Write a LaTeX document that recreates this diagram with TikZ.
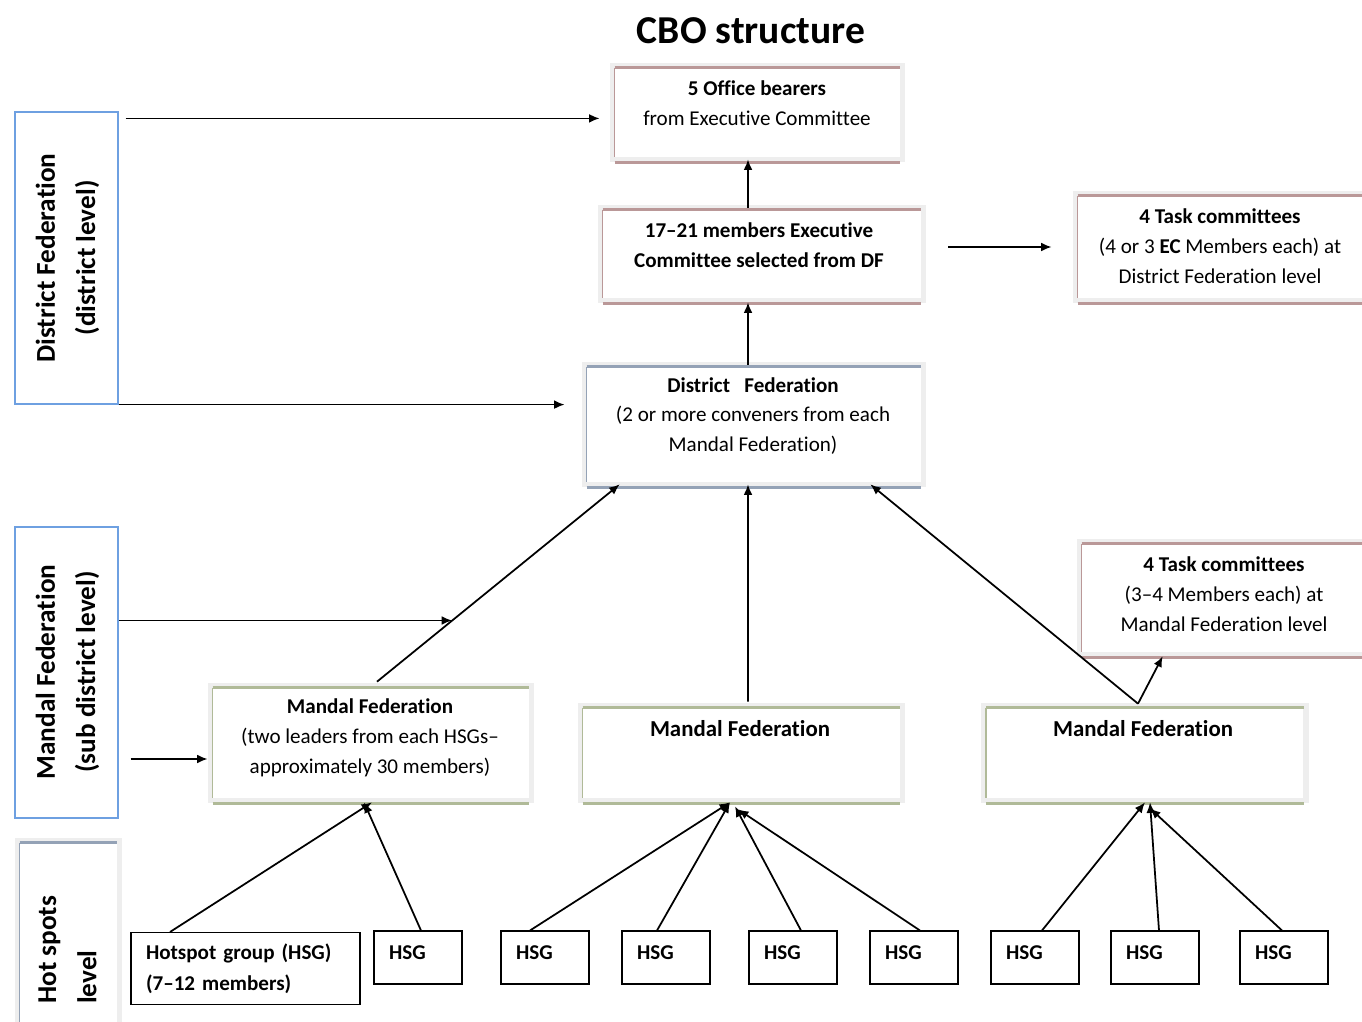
\documentclass[tikz,border=0pt]{standalone}
\usepackage{fontspec}
\setmainfont{Carlito}[Ligatures=CommonOff]
\usetikzlibrary{arrows.meta,calc}

\definecolor{boxband}{RGB}{238,238,238}
\definecolor{mauve}{RGB}{186,152,152}
\definecolor{slate}{RGB}{148,162,182}
\definecolor{sage}{RGB}{176,186,152}
\definecolor{labelblue}{RGB}{110,160,225}

\tikzset{
    fedbox/.style = {
        fill=white,
        inner sep=0pt,
        preaction={draw=boxband, line width=6pt},
        append after command={
            \pgfextra{\let\boxnode\tikzlastnode}
            (\boxnode.north west) edge[draw=#1, line width=2pt] (\boxnode.north east)
            (\boxnode.north west) edge[draw=#1, line width=0.9pt] (\boxnode.south west)
            ([yshift=-3pt]\boxnode.south west) edge[draw=#1, line width=2pt] ([yshift=-3pt]\boxnode.south east)
        }
    },
    sidebox/.style = {
        draw=labelblue,
        line width=0.7pt,
        inner sep=0pt
    },
    boxtext/.style = {
        align=center,
        font=\fontsize{12}{17}\selectfont
    },
    sidetext/.style = {
        rotate=90,
        align=center,
        font=\bfseries\fontsize{15.5}{23}\selectfont
    },
    hsg/.style = {
        draw,
        line width=0.6pt,
        minimum height=1.06cm,
        text width=#1,
        inner xsep=0.3cm,
        align=left,
        font=\bfseries\fontsize{12}{17.5}\selectfont
    },
    hsgsmall/.style = {
        hsg=1.16cm,
        text depth=0.2cm
    },
    conn/.style = {
        -{Latex[length=6pt,width=5pt]},
        line width=1pt
    }
}

\begin{document}
\begin{tikzpicture}[x=0.02cm, y=-0.02cm]
    \useasboundingbox (0,0) rectangle (1362,1021);
    \clip (0,0) rectangle (1362,1021);

    % Title
    \node[font=\bfseries\fontsize{22.5}{26}\selectfont] (title) at (751,31) {CBO structure};

    % Level boxes on the left
    \node[sidebox, minimum width=2.06cm, minimum height=5.84cm] (distside) at (66.5,258) {};
    \node[sidebox, minimum width=2.06cm, minimum height=5.82cm] (mandside) at (66.5,672.5) {};
    \node[fedbox=slate, minimum width=1.94cm, minimum height=3.74cm] (hotside) at (68.5,936.5) {};
    \node[sidetext] (distlbl) at (67.5,258) {District Federation\\(district level)};
    \node[sidetext] (mandlbl) at (67.5,672) {Mandal Federation\\(sub district level)};
    \node[sidetext, align=left, anchor=west] (hotlbl) at (67.5,1010) {Hot spots\\level};

    % District level boxes
    \node[fedbox=mauve, minimum width=5.7cm, minimum height=1.78cm] (office) at (757.5,112.5) {};
    \node[fedbox=mauve, minimum width=6.36cm, minimum height=1.76cm] (exec) at (762,254) {};
    \node[fedbox=slate, minimum width=6.68cm, minimum height=2.3cm] (df) at (754,424.5) {};
    \node[fedbox=mauve, minimum width=5.84cm, minimum height=2.04cm] (task1) at (1224,247) {};
    \node[fedbox=mauve, minimum width=5.76cm, minimum height=2.16cm] (task2) at (1226,598) {};

    \node[boxtext] (officetxt) at (757,103.5) {\textbf{5 Office bearers}\\from Executive Committee};
    \node[boxtext, font=\bfseries\fontsize{12}{17}\selectfont] (exectxt) at (759,245) {17--21 members Executive\\Committee selected from DF};
    \node[boxtext] (dftxt) at (753,416) {\textbf{District~~ Federation}\\(2 or more conveners from each\\Mandal Federation)};
    \node[boxtext] (task1txt) at (1220,246.5) {\textbf{4 Task committees}\\(4 or 3 \textbf{EC} Members each) at\\District Federation level};
    \node[boxtext] (task2txt) at (1224,594) {\textbf{4 Task committees}\\(3--4 Members each) at\\Mandal Federation level};

    % Mandal level boxes
    \node[fedbox=sage, minimum width=6.32cm, minimum height=2.2cm] (mf1) at (371,743) {};
    \node[fedbox=sage, minimum width=6.34cm, minimum height=1.8cm] (mf2) at (741.5,753) {};
    \node[fedbox=sage, minimum width=6.34cm, minimum height=1.8cm] (mf3) at (1145,753) {};

    \node[boxtext] (mf1txt) at (370,738) {\textbf{Mandal Federation}\\(two leaders from each HSGs--\\approximately 30 members)};
    \node[boxtext, font=\bfseries\fontsize{13}{17}\selectfont] (mf2txt) at (740,729) {Mandal Federation};
    \node[boxtext, font=\bfseries\fontsize{13}{17}\selectfont] (mf3txt) at (1143,729) {Mandal Federation};

    % Hot spot groups
    \node[hsg=3.98cm, minimum height=1.44cm] (hot) at (245.5,968.5) {Hotspot group (HSG)\\(7--12 members)};
    \node[hsgsmall] (h1) at (418,957.5) {HSG};
    \node[hsgsmall] (h2) at (545,957.5) {HSG};
    \node[hsgsmall] (h3) at (666,957.5) {HSG};
    \node[hsgsmall] (h4) at (793,957.5) {HSG};
    \node[hsgsmall] (h5) at (914,957.5) {HSG};
    \node[hsgsmall] (h6) at (1035,957.5) {HSG};
    \node[hsgsmall] (h7) at (1155,957.5) {HSG};
    \node[hsgsmall] (h8) at (1284,957.5) {HSG};

    % Draw arrows between levels
    \draw[conn] ($(exec.north)+(-14,-2)$) -- ($(office.south)+(-9.5,2)$);
    \draw[conn] ($(df.north)+(-6,-2)$) -- ($(exec.south)+(-14,4)$);
    \draw[conn, shorten <=0.54cm, shorten >=0.52cm] (exec.east |- task1.west) -- (task1.west);
    \draw[conn] ($(mf1.north)+(6,-6)$) -- ($(df.south west)+(33,2)$);
    \draw[conn] ($(mf2.north)+(6.5,-6)$) -- ($(df.south)+(-6,2)$);
    \draw[conn] ($(mf3.north)+(-7,-4)$) -- ($(df.south east)+(-51,2)$);
    \draw[conn] ($(mf3.north)+(-7,-4)$) -- ($(task2.south west)+(81,4)$);

    % Draw arrows from the level boxes
    \coordinate (meet) at ($($(mf1.north)+(6,-6)$)!0.31!($(df.south west)+(33,2)$)$);
    \draw[conn, shorten <=0.14cm, shorten >=0.3cm] ($(distside.north east)+(0,7)$) -- (office.west |- {$(distside.north east)+(0,7)$});
    \draw[conn, shorten >=0.44cm] (distside.south east) -- (distside.south east -| df.west);
    \draw[conn] (mandside.east |- meet) -- (meet);
    \draw[conn, shorten <=0.24cm, shorten >=0.1cm] ($(mandside.east |- mf1.west)+(0,16)$) -- ($(mf1.west)+(0,16)$);

    % Draw arrows from the hot spot groups
    \draw[conn] ($(hot.north)+(-75.5,0)$) -- ($(mf1.south)+(1,4)$);
    \draw[conn] ($(h1.north)+(3,0)$) -- ($(mf1.south)+(-7,4)$);
    \draw[conn] ($(h2.north)+(-15,0)$) -- ($(mf2.south)+(-11.5,4)$);
    \draw[conn] ($(h3.north)+(-9,0)$) -- ($(mf2.south)+(-11.5,4)$);
    \draw[conn] ($(h4.north)+(8,0)$) -- ($(mf2.south)+(-6.5,8)$);
    \draw[conn] ($(h5.north)+(6,0)$) -- ($(mf2.south)+(-3.5,11)$);
    \draw[conn] ($(h6.north)+(7,0)$) -- ($(mf3.south)+(0,4)$);
    \draw[conn] ($(h7.north)+(4,0)$) -- ($(mf3.south)+(5,4)$);
    \draw[conn] ($(h8.north)+(-2,0)$) -- ($(mf3.south)+(5,10)$);
\end{tikzpicture}
\end{document}
